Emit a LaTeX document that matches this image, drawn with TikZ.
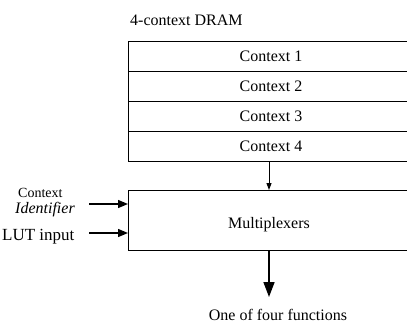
\documentclass[tikz,border=0pt]{standalone}
\usepackage{fontspec}
\setmainfont{Liberation Serif}
\usetikzlibrary{arrows.meta}
\begin{document}
\begin{tikzpicture}[x=1pt,y=-1pt,
  box/.style={draw, line width=1.3pt, rectangle, minimum width=300pt, anchor=north west, inner sep=0pt},
  rowbox/.style={box, minimum height=30pt},
  lab/.style={font=\fontsize{16}{18}\selectfont, inner sep=0pt},
  smalllab/.style={font=\fontsize{14}{15}\selectfont, inner sep=0pt},
  conn/.style={line width=1.3pt},
  inarrow/.style={conn, -{Triangle[length=10pt,width=8pt]}},
  midarrow/.style={line width=1pt, -{Triangle[length=7pt,width=5pt]}},
  outarrow/.style={line width=1.6pt, -{Triangle[length=15pt,width=11pt]}}
]
\useasboundingbox (0,0) rectangle (407,327);
\clip (0,0) rectangle (407,327);
\node[lab, anchor=base west] (title) at (130,25) {4-context DRAM};
\node[rowbox] (c1) at (128,41) {};
\node[rowbox] (c2) at (128,71) {};
\node[rowbox] (c3) at (128,101) {};
\node[rowbox] (c4) at (128,131) {};
\coordinate (ax) at (269,0);
\coordinate (tx) at (271,0);
\node[lab] (t1) at (c1.center -| tx) {Context 1};
\node[lab] (t2) at (c2.center -| tx) {Context 2};
\node[lab] (t3) at (c3.center -| tx) {Context 3};
\node[lab] (t4) at (c4.center -| tx) {Context 4};
\node[box, minimum height=60pt] (mux) at (128,190) {};
\node[lab, anchor=base] (mt) at (269,228) {Multiplexers};
\draw[midarrow] (c4.south -| ax) -- (mux.north -| ax);
\coordinate (ci) at (89,204);
\coordinate (li) at (89,233);
\node[smalllab, anchor=base west] (cl1) at (18,197) {Context};
\node[smalllab, anchor=base west, font=\fontsize{16}{16}\selectfont\itshape] (cl2) at (15,213) {Identifier};
\node[lab, anchor=base west, font=\fontsize{17}{18}\selectfont] (lut) at (2,240) {LUT input};
\draw[inarrow] (ci) -- (ci -| mux.west);
\draw[inarrow] (li) -- (li -| mux.west);
\coordinate (oe) at (269,297);
\draw[outarrow] (mux.south -| ax) -- (oe);
\node[lab, anchor=base] (out) at (278,320) {One of four functions};
\end{tikzpicture}
\end{document}
